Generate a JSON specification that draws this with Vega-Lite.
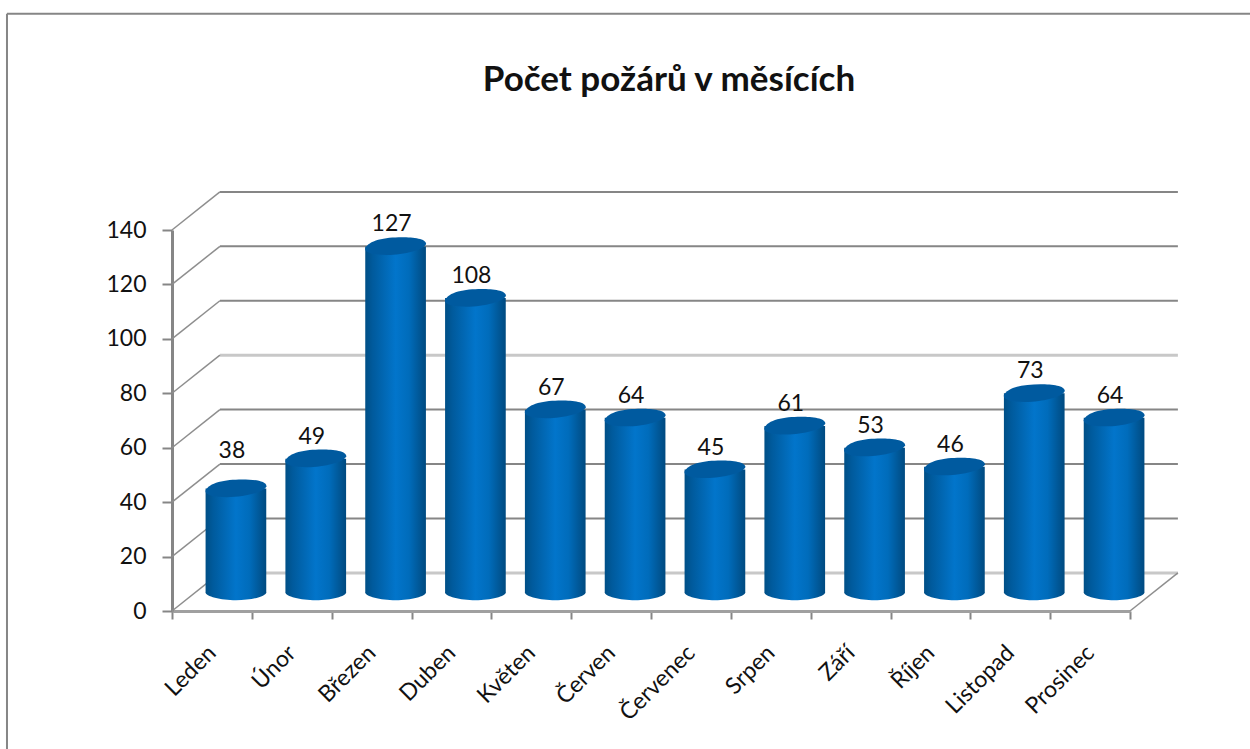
{
"$schema":"https://vega.github.io/schema/vega-lite/v6.json",
"width":958,"height":381,
"autosize":{"type":"none"},
"padding":{"left":172,"top":230,"right":120,"bottom":138},
"background":"white",
"title":{"text":"Počet požárů v měsících","font":"Lato","fontSize":35,"fontWeight":"bold","color":"#111111","anchor":"middle","dx":18,"offset":-85,"frame":"group"},
"config":{"view":{"stroke":null},"text":{"font":"Lato"}},
"datasets":{
"months":[
{"mesic":"Leden","pocet":38},{"mesic":"Únor","pocet":49},{"mesic":"Březen","pocet":127},{"mesic":"Duben","pocet":108},
{"mesic":"Květen","pocet":67},{"mesic":"Červen","pocet":64},{"mesic":"Červenec","pocet":45},{"mesic":"Srpen","pocet":61},
{"mesic":"Září","pocet":53},{"mesic":"Říjen","pocet":46},{"mesic":"Listopad","pocet":73},{"mesic":"Prosinec","pocet":64}],
"wallDark":[{"a":0.6,"b":12.6,"v":154},{"a":0.6,"b":12.6,"v":134},{"a":0.6,"b":12.6,"v":114},{"a":0.6,"b":12.6,"v":74},{"a":0.6,"b":12.6,"v":54},{"a":0.6,"b":12.6,"v":34}],
"wallLight":[{"a":0.6,"b":12.6,"v":94},{"a":0.6,"b":12.6,"v":14}],
"diagonals":[{"a":0,"b":0.6,"v":0,"w":14},{"a":0,"b":0.6,"v":20,"w":34},{"a":0,"b":0.6,"v":40,"w":54},{"a":0,"b":0.6,"v":60,"w":74},{"a":0,"b":0.6,"v":80,"w":94},{"a":0,"b":0.6,"v":100,"w":114},{"a":0,"b":0.6,"v":120,"w":134},{"a":0,"b":0.6,"v":140,"w":154},{"a":12,"b":12.6,"v":0,"w":14}],
"frame":[{"a":-2.067,"b":13.6,"v":219.5,"w":219.5},{"a":-2.067,"b":-2.067,"v":219.5,"w":-51}]
},
"layer":[
{"data":{"name":"frame"},"mark":{"type":"rule","color":"#868686","strokeWidth":2,"clip":false},
 "encoding":{"x":{"field":"a","type":"quantitative","scale":{"domain":[0,12],"nice":false,"zero":false},"axis":null},"x2":{"field":"b"},
 "y":{"field":"v","type":"quantitative","scale":{"domain":[0,140],"nice":false},"axis":{"values":[0,20,40,60,80,100,120,140],"title":null,"grid":false,"labelFont":"Lato","labelFontSize":23,"labelColor":"#111111","labelPadding":16,"tickSize":10,"tickWidth":2,"tickColor":"#868686","domainColor":"#868686","domainWidth":3}},"y2":{"field":"w"}}},
{"data":{"name":"wallLight"},"mark":{"type":"rule","color":"#c8c8c8","strokeWidth":3},
 "encoding":{"x":{"field":"a","type":"quantitative","scale":{"domain":[0,12],"nice":false,"zero":false},"axis":null},"x2":{"field":"b"},"y":{"field":"v","type":"quantitative"}}},
{"data":{"name":"wallDark"},"mark":{"type":"rule","color":"#868686","strokeWidth":2},
 "encoding":{"x":{"field":"a","type":"quantitative","scale":{"domain":[0,12],"nice":false,"zero":false},"axis":null},"x2":{"field":"b"},"y":{"field":"v","type":"quantitative"}}},
{"data":{"name":"diagonals"},"mark":{"type":"rule","color":"#8e8e8e","strokeWidth":1.5},
 "encoding":{"x":{"field":"a","type":"quantitative","scale":{"domain":[0,12],"nice":false,"zero":false},"axis":null},"x2":{"field":"b"},"y":{"field":"v","type":"quantitative"},"y2":{"field":"w"}}},
{"data":{"name":"months"},"mark":{"type":"point","filled":true,"opacity":1,"size":3721,"xOffset":24,"yOffset":-19,"shape":"M-1,0 L1,0 C1,0.15 0.5,0.27 0,0.27 C-0.5,0.27 -1,0.15 -1,0 Z","fill":{"gradient":"linear","x1":0,"x2":1,"y1":0,"y2":0,"stops":[{"offset":0,"color":"#004f86"},{"offset":0.12,"color":"#005a9c"},{"offset":0.5,"color":"#0275cb"},{"offset":0.72,"color":"#006cbb"},{"offset":1,"color":"#004a80"}]}},
 "encoding":{"x":{"field":"mesic","type":"nominal","sort":null,"scale":{"domain":["Leden","Únor","Březen","Duben","Květen","Červen","Červenec","Srpen","Září","Říjen","Listopad","Prosinec"],"paddingInner":0,"paddingOuter":0},"axis":null},"y":{"datum":0}}},
{"data":{"name":"months"},"mark":{"type":"bar","width":{"band":0.76},"xOffset":24,"yOffset":-19,"y2Offset":-19,"fill":{"gradient":"linear","x1":0,"x2":1,"y1":0,"y2":0,"stops":[{"offset":0,"color":"#004f86"},{"offset":0.12,"color":"#005a9c"},{"offset":0.5,"color":"#0275cb"},{"offset":0.72,"color":"#006cbb"},{"offset":1,"color":"#004a80"}]}},
 "encoding":{"x":{"field":"mesic","type":"nominal","sort":null,"scale":{"domain":["Leden","Únor","Březen","Duben","Květen","Červen","Červenec","Srpen","Září","Říjen","Listopad","Prosinec"],"paddingInner":0,"paddingOuter":0},"axis":{"title":null,"tickBand":"extent","labelAngle":-45,"labelAlign":"right","labelBaseline":"middle","labelPadding":30,"labelFont":"Lato","labelFontSize":23,"labelColor":"#111111","tickSize":8,"tickWidth":2,"tickColor":"#868686","domainColor":"#a0a0a0","domainWidth":3}},
 "y":{"field":"pocet","type":"quantitative"},"y2":{"datum":0}}},
{"data":{"name":"months"},"mark":{"type":"point","filled":true,"opacity":1,"size":3721,"xOffset":24,"yOffset":-19,"fill":"#005a9f","stroke":"#3f8dc2","strokeWidth":0.03,"shape":"M-1,0.08 C-0.9,-0.2 -0.35,-0.3 0.2,-0.3 C0.6,-0.3 1,-0.25 1,-0.08 C0.95,0.1 0.3,0.28 -0.3,0.28 C-0.7,0.28 -1,0.22 -1,0.08 Z"},
 "encoding":{"x":{"field":"mesic","type":"nominal","sort":null,"scale":{"domain":["Leden","Únor","Březen","Duben","Květen","Červen","Červenec","Srpen","Září","Říjen","Listopad","Prosinec"],"paddingInner":0,"paddingOuter":0},"axis":null},"y":{"field":"pocet","type":"quantitative"}}},
{"data":{"name":"months"},"transform":[{"filter":"datum.mesic !== 'Leden'"}],"mark":{"type":"text","font":"Lato","fontSize":23,"color":"#111111","xOffset":20,"yOffset":-41,"baseline":"middle"},
 "encoding":{"x":{"field":"mesic","type":"nominal","sort":null,"scale":{"domain":["Leden","Únor","Březen","Duben","Květen","Červen","Červenec","Srpen","Září","Říjen","Listopad","Prosinec"],"paddingInner":0,"paddingOuter":0},"axis":null},"y":{"field":"pocet","type":"quantitative"},"text":{"field":"pocet","type":"quantitative"}}},
{"data":{"name":"months"},"transform":[{"filter":"datum.mesic === 'Leden'"}],"mark":{"type":"text","font":"Lato","fontSize":23,"color":"#111111","xOffset":20,"yOffset":-57,"baseline":"middle"},
 "encoding":{"x":{"field":"mesic","type":"nominal","sort":null,"scale":{"domain":["Leden","Únor","Březen","Duben","Květen","Červen","Červenec","Srpen","Září","Říjen","Listopad","Prosinec"],"paddingInner":0,"paddingOuter":0},"axis":null},"y":{"field":"pocet","type":"quantitative"},"text":{"field":"pocet","type":"quantitative"}}}
],
"resolve":{"scale":{"x":"independent"}}
}
